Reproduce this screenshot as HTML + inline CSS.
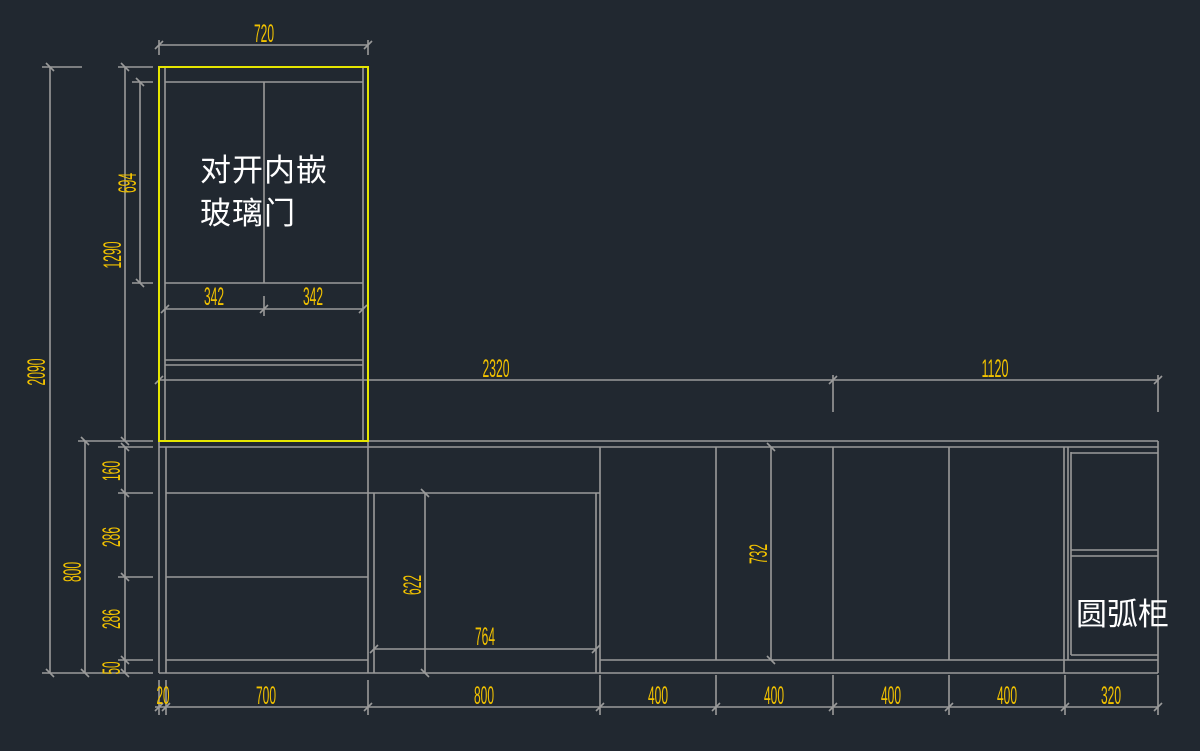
<!DOCTYPE html>
<html><head><meta charset="utf-8"><style>
html,body{margin:0;padding:0;background:#212830;}
svg{display:block}
.l{stroke:#9a9a9a;stroke-width:1.6;fill:none}
.y{stroke:#e6e600;stroke-width:2;fill:none}
.t{fill:#f2c200;font-family:"Liberation Sans",sans-serif;font-size:25px}
.c{fill:#ffffff;font-family:"Liberation Sans","Noto Sans CJK SC",sans-serif;font-size:31px}
</style></head><body>
<svg width="1200" height="751" viewBox="0 0 1200 751" xmlns="http://www.w3.org/2000/svg">
<rect width="1200" height="751" fill="#212830"/>
<g class="l">
<line x1="165" y1="67" x2="165" y2="441"/><line x1="363" y1="67" x2="363" y2="441"/>
<line x1="165" y1="82" x2="363" y2="82"/><line x1="264" y1="82" x2="264" y2="283"/>
<line x1="165" y1="283" x2="363" y2="283"/>
<line x1="165" y1="360" x2="363" y2="360"/><line x1="165" y1="365" x2="363" y2="365"/>
<line x1="165" y1="309" x2="363" y2="309"/><line x1="264" y1="296" x2="264" y2="316"/>
<line x1="159" y1="45" x2="368" y2="45"/><line x1="159" y1="40" x2="159" y2="55"/><line x1="368" y1="40" x2="368" y2="55"/>
<line x1="42" y1="67" x2="82" y2="67"/><line x1="50" y1="67" x2="50" y2="673"/>
<line x1="118" y1="67" x2="153" y2="67"/><line x1="125" y1="67" x2="125" y2="441"/>
<line x1="132" y1="82" x2="153" y2="82"/><line x1="140" y1="82" x2="140" y2="283"/><line x1="132" y1="283" x2="153" y2="283"/>
<line x1="78" y1="441" x2="153" y2="441"/><line x1="118" y1="447" x2="153" y2="447"/>
<line x1="85" y1="441" x2="85" y2="673"/><line x1="125" y1="447" x2="125" y2="673"/>
<line x1="118" y1="493" x2="153" y2="493"/><line x1="118" y1="577" x2="153" y2="577"/><line x1="118" y1="660" x2="153" y2="660"/>
<line x1="42" y1="673" x2="153" y2="673"/>
<line x1="159" y1="380" x2="1158" y2="380"/>
<line x1="159" y1="375" x2="159" y2="410"/><line x1="833" y1="375" x2="833" y2="412"/><line x1="1158" y1="375" x2="1158" y2="412"/>
<line x1="159" y1="441" x2="1158" y2="441"/><line x1="159" y1="447" x2="1158" y2="447"/>
<line x1="159" y1="441" x2="159" y2="673"/><line x1="166" y1="447" x2="166" y2="673"/>
<line x1="1158" y1="441" x2="1158" y2="673"/>
<line x1="159" y1="673" x2="1158" y2="673"/>
<line x1="166" y1="493" x2="600" y2="493"/><line x1="166" y1="577" x2="368" y2="577"/><line x1="166" y1="660" x2="368" y2="660"/>
<line x1="368" y1="441" x2="368" y2="673"/>
<line x1="374" y1="493" x2="374" y2="673"/><line x1="596" y1="493" x2="596" y2="673"/>
<line x1="600" y1="447" x2="600" y2="673"/>
<line x1="600" y1="660" x2="1158" y2="660"/>
<line x1="716" y1="447" x2="716" y2="660"/><line x1="833" y1="447" x2="833" y2="660"/><line x1="949" y1="447" x2="949" y2="660"/>
<line x1="1064" y1="447" x2="1064" y2="673"/><line x1="1068" y1="447" x2="1068" y2="660"/><line x1="1071" y1="452" x2="1071" y2="655"/>
<line x1="1071" y1="453" x2="1158" y2="453"/><line x1="1071" y1="550" x2="1158" y2="550"/><line x1="1071" y1="556" x2="1158" y2="556"/><line x1="1071" y1="655" x2="1158" y2="655"/>
<line x1="425" y1="493" x2="425" y2="673"/><line x1="374" y1="649" x2="596" y2="649"/>
<line x1="771" y1="447" x2="771" y2="660"/>
<line x1="155" y1="707" x2="1158" y2="707"/>
<line x1="159" y1="680" x2="159" y2="715"/><line x1="166" y1="680" x2="166" y2="715"/>
<line x1="368" y1="680" x2="368" y2="715"/><line x1="600" y1="675" x2="600" y2="715"/><line x1="716" y1="675" x2="716" y2="715"/>
<line x1="833" y1="675" x2="833" y2="715"/><line x1="949" y1="675" x2="949" y2="715"/><line x1="1065" y1="675" x2="1065" y2="715"/><line x1="1158" y1="675" x2="1158" y2="715"/>
</g>
<g class="l" stroke-width="1.6">
<path d="M155 49l8-8M364 49l8-8M161 313l8-8M260 313l8-8M359 313l8-8M155 384l8-8M829 384l8-8M1154 384l8-8"/>
<path d="M46 63l8 8M121 63l8 8M136 78l8 8M136 279l8 8M81 437l8 8M121 437l8 8M121 443l8 8M121 489l8 8M121 573l8 8M121 656l8 8M46 669l8 8M81 669l8 8M121 669l8 8"/>
<path d="M421 489l8 8M421 669l8 8M767 443l8 8M767 656l8 8M370 653l8-8M592 653l8-8"/>
<path d="M155 711l8-8M162 711l8-8M364 711l8-8M596 711l8-8M712 711l8-8M829 711l8-8M945 711l8-8M1061 711l8-8M1154 711l8-8"/>
</g>
<rect x="159" y="67" width="209" height="374" class="y"/>
<g class="t" text-anchor="middle">
<text x="264" y="42" textLength="20" lengthAdjust="spacingAndGlyphs">720</text>
<text x="214" y="305" textLength="20" lengthAdjust="spacingAndGlyphs">342</text>
<text x="313" y="305" textLength="20" lengthAdjust="spacingAndGlyphs">342</text>
<text x="496" y="377" textLength="27" lengthAdjust="spacingAndGlyphs">2320</text>
<text x="995" y="377" textLength="27" lengthAdjust="spacingAndGlyphs">1120</text>
<text x="485" y="645" textLength="20" lengthAdjust="spacingAndGlyphs">764</text>
<text x="163" y="704" textLength="13" lengthAdjust="spacingAndGlyphs">20</text>
<text x="266" y="704" textLength="20" lengthAdjust="spacingAndGlyphs">700</text>
<text x="484" y="704" textLength="20" lengthAdjust="spacingAndGlyphs">800</text>
<text x="658" y="704" textLength="20" lengthAdjust="spacingAndGlyphs">400</text>
<text x="774" y="704" textLength="20" lengthAdjust="spacingAndGlyphs">400</text>
<text x="891" y="704" textLength="20" lengthAdjust="spacingAndGlyphs">400</text>
<text x="1007" y="704" textLength="20" lengthAdjust="spacingAndGlyphs">400</text>
<text x="1111" y="704" textLength="20" lengthAdjust="spacingAndGlyphs">320</text>
<text transform="translate(136,183) rotate(-90)" textLength="20" lengthAdjust="spacingAndGlyphs">694</text>
<text transform="translate(121,255) rotate(-90)" textLength="27" lengthAdjust="spacingAndGlyphs">1290</text>
<text transform="translate(45,372) rotate(-90)" textLength="27" lengthAdjust="spacingAndGlyphs">2090</text>
<text transform="translate(81,572) rotate(-90)" textLength="20" lengthAdjust="spacingAndGlyphs">800</text>
<text transform="translate(120,471) rotate(-90)" textLength="20" lengthAdjust="spacingAndGlyphs">160</text>
<text transform="translate(120,537) rotate(-90)" textLength="20" lengthAdjust="spacingAndGlyphs">286</text>
<text transform="translate(120,619) rotate(-90)" textLength="20" lengthAdjust="spacingAndGlyphs">286</text>
<text transform="translate(120,668) rotate(-90)" textLength="13" lengthAdjust="spacingAndGlyphs">50</text>
<text transform="translate(421,585) rotate(-90)" textLength="20" lengthAdjust="spacingAndGlyphs">622</text>
<text transform="translate(767,554) rotate(-90)" textLength="20" lengthAdjust="spacingAndGlyphs">732</text>
</g>
<g class="c">
<text x="200" y="181" letter-spacing="1">对开内嵌</text>
<text x="200" y="224" letter-spacing="1">玻璃门</text>
<text x="1076" y="625">圆弧柜</text>
</g>
</svg>
</body></html>
